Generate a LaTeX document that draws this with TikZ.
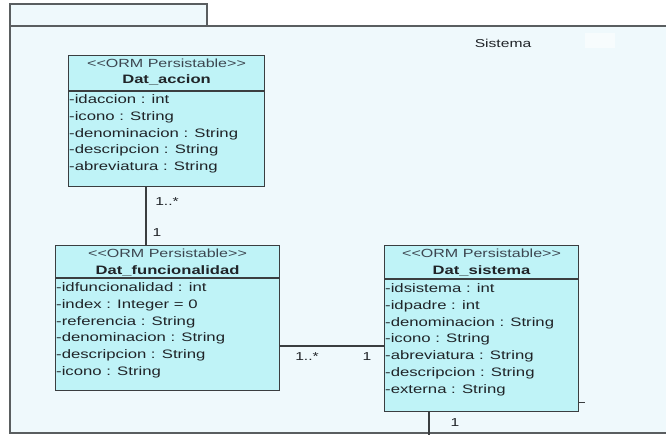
\documentclass[tikz,border=0pt]{standalone}
\usepackage{fontspec}
\usetikzlibrary{calc}
\newfontfamily\umlfont[FakeStretch=1.36]{Liberation Sans}
\definecolor{pkgfill}{HTML}{EFF9FC}
\definecolor{pkgline}{HTML}{5A5E60}
\definecolor{classfill}{HTML}{BFF3F7}
\definecolor{boxline}{HTML}{3A3E40}
\definecolor{stereocol}{HTML}{3C4650}
\definecolor{textcol}{HTML}{202428}
\begin{document}
\begin{tikzpicture}[x=1pt,y=-1pt,
  pkg/.style={draw=pkgline, fill=pkgfill, line width=1.4pt},
  classbox/.style={draw=boxline, fill=classfill, line width=1.1pt, inner sep=0pt, anchor=north west},
  sep/.style={draw=boxline, line width=1.1pt},
  stereo/.style={font=\umlfont\fontsize{11.8}{14}\selectfont, text=stereocol, inner sep=0pt},
  cname/.style={font=\umlfont\bfseries\fontsize{12.2}{14}\selectfont, text=textcol, inner sep=0pt},
  attrs/.style={font=\umlfont\fontsize{12.3}{16.7}\selectfont, text=textcol, align=left, anchor=north west, inner sep=0pt},
  mult/.style={font=\umlfont\fontsize{11.5}{14}\selectfont, text=textcol, inner sep=0pt},
  assoc/.style={draw=boxline, line width=1.1pt}
]
\useasboundingbox (0,0) rectangle (666,434);

% package "Sistema": tab and body
\fill[white] (0,0) rectangle (666,434);
\path[pkg] (10,4) rectangle (207,26);
\fill[pkgfill] (10,26) rectangle (666,433);
\draw[pkgline, line width=1.4pt] (666,26) -- (10,26) -- (10,433) -- (666,433);
\node[font=\umlfont\fontsize{11.5}{14}\selectfont, text=textcol, inner sep=0pt] (pkgname) at (503,43) {Sistema};
\fill[white, opacity=0.5] (585,33) rectangle (615,48);

% class Dat_accion
\node[classbox, minimum width=196pt, minimum height=131pt] (accion) at (68,55) {};
\draw[sep] ($(accion.north west)+(0,36)$) -- ($(accion.north east)+(0,36)$);
\node[stereo] (accionst) at ($(accion.north)+(0,8.5)$) {<<ORM Persistable>>};
\node[cname] (accionnm) at ($(accion.north)+(0,25)$) {Dat\_accion};
\node[attrs] (accionat) at ($(accion.north west)+(1,37)$) {\strut-idaccion : int\\
-icono : String\\
-denominacion : String\\
-descripcion : String\\
-abreviatura : String};

% class Dat_funcionalidad
\node[classbox, minimum width=224pt, minimum height=145pt] (func) at (55,245) {};
\draw[sep] ($(func.north west)+(0,33)$) -- ($(func.north east)+(0,33)$);
\node[stereo] (funcst) at ($(func.north)+(0,8.5)$) {<<ORM Persistable>>};
\node[cname] (funcnm) at ($(func.north)+(0,25.5)$) {Dat\_funcionalidad};
\node[attrs] (funcat) at ($(func.north west)+(1,35)$) {\strut-idfuncionalidad : int\\
-index : Integer = 0\\
-referencia : String\\
-denominacion : String\\
-descripcion : String\\
-icono : String};

% class Dat_sistema
\node[classbox, minimum width=194pt, minimum height=166pt] (sist) at (384,245) {};
\draw[sep] ($(sist.north west)+(0,34)$) -- ($(sist.north east)+(0,34)$);
\node[stereo] (sistst) at ($(sist.north)+(0,8.5)$) {<<ORM Persistable>>};
\node[cname] (sistnm) at ($(sist.north)+(0,25.5)$) {Dat\_sistema};
\node[attrs] (sistat) at ($(sist.north west)+(1,36)$) {\strut-idsistema : int\\
-idpadre : int\\
-denominacion : String\\
-icono : String\\
-abreviatura : String\\
-descripcion : String\\
-externa : String};

% association Dat_accion -- Dat_funcionalidad
\coordinate (a1) at ($(accion.south west)+(78,0)$);
\draw[assoc] (a1) -- (a1 |- func.north);
\node[mult] (m1) at (167,202) {1..*};
\node[mult] (m2) at (157,233) {1};

% association Dat_funcionalidad -- Dat_sistema
\coordinate (b1) at ($(func.north east)+(0,101)$);
\draw[assoc] (b1) -- (b1 -| sist.west);
\node[mult] (m3) at (307,357) {1..*};
\node[mult] (m4) at (367,357) {1};

% association leaving Dat_sistema downwards
\coordinate (c1) at ($(sist.south west)+(45,0)$);
\coordinate (c2) at ($(c1)+(0,23)$);
\draw[assoc] (c1) -- (c2);
\node[mult] (m5) at (455,423) {1};

% short stub on the right side of Dat_sistema
\coordinate (d1) at ($(sist.south east)+(0,-10)$);
\coordinate (d2) at ($(d1)+(6,0)$);
\draw[assoc] (d1) -- (d2);
\end{tikzpicture}
\end{document}
